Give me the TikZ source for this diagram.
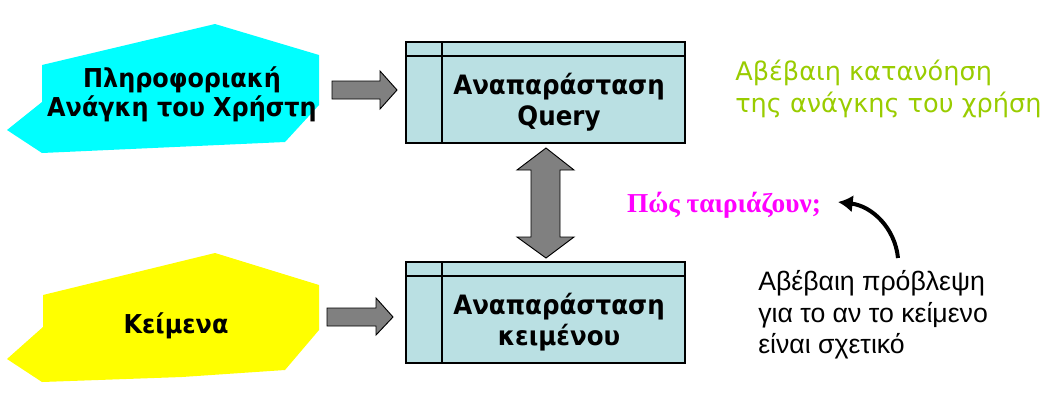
\documentclass[tikz,border=0pt]{standalone}
\usepackage{fontspec}
\setmainfont{Liberation Sans}
\newfontfamily\boxfont[FakeStretch=0.92]{DejaVu Sans}
\newfontfamily\greenfont{DejaVu Sans}
\newfontfamily\serifbold{Liberation Serif}
\usetikzlibrary{arrows.meta}
\definecolor{cyanfill}{HTML}{00FFFF}
\definecolor{yellowfill}{HTML}{FFFF00}
\definecolor{boxfill}{HTML}{BAE0E3}
\definecolor{arrowgray}{HTML}{808080}
\definecolor{greentext}{HTML}{99CC00}
\definecolor{magtext}{HTML}{FF00FF}
\tikzset{
  repbox/.style={draw=black, line width=0.9pt, fill=boxfill},
  fatarrow/.style={draw=black, line width=0.7pt, fill=arrowgray, line join=miter},
  boxtext/.style={font=\boxfont\bfseries\fontsize{20}{23}\selectfont, align=center, inner sep=0pt},
  blobtext/.style={font=\boxfont\bfseries\fontsize{19.5}{21.5}\selectfont, align=center, inner sep=0pt},
  note/.style={align=left, inner sep=0pt, anchor=west},
}
\begin{document}
\begin{tikzpicture}[x=0.75pt,y=-0.75pt]
\useasboundingbox (0,0) rectangle (1051,405);
% cyan blob
\fill[cyanfill] (42,65) -- (215,24) -- (319,55) -- (319,105) -- (285,142) -- (42,153) -- (7,130) -- (42,102) -- cycle;
% yellow blob
\fill[yellowfill] (43,295) -- (215,253) -- (319,285) -- (319,330) -- (285,370) -- (182,377) -- (42,382) -- (7,359) -- (43,327) -- cycle;
\node[blobtext] (need) at (182,94) {Πληροφοριακή\\Ανάγκη του Χρήστη};
\node[blobtext] (docs) at (176,326) {Κείμενα};
% representation boxes
\draw[repbox] (406,42) rectangle (685,143);
\draw[line width=0.9pt] (406,56) -- (685,56) (442,42) -- (442,143);
\draw[repbox] (406,262) rectangle (685,363);
\draw[line width=0.9pt] (406,276) -- (685,276) (442,262) -- (442,363);
\node[boxtext] (qrep) at (559,102) {Αναπαράσταση\\Query};
\node[boxtext] (drep) at (559,322) {Αναπαράσταση\\κειμένου};
% block arrows
\draw[fatarrow] (332,81) -- (380,81) -- (380,71) -- (397,90) -- (380,109) -- (380,99) -- (332,99) -- cycle;
\draw[fatarrow] (327,308) -- (376,308) -- (376,298) -- (393,317) -- (376,335) -- (376,326) -- (327,326) -- cycle;
\draw[fatarrow] (546,148) -- (574,170) -- (560,170) -- (560,237) -- (574,237) -- (546,258) -- (517,237) -- (531,237) -- (531,170) -- (517,170) -- cycle;
% texts
\node[note, font=\greenfont\fontsize{19.2}{24}\selectfont, text=greentext] (green) at (735,89) {Αβέβαιη κατανόηση\\της ανάγκης του χρήση};
\node[note, font=\fontsize{20}{23.5}\selectfont] (pred) at (758,315) {Αβέβαιη πρόβλεψη\\για το αν το κείμενο\\είναι σχετικό};
\node[font=\serifbold\bfseries\fontsize{20.5}{24}\selectfont, text=magtext, inner sep=0pt] (match) at (724,205) {Πώς ταιριάζουν;};
% curved arrow
\coordinate (cstart) at (898,258);
\coordinate (cend) at (838,202);
\draw[line width=3pt, -{Latex[length=11pt,width=13pt]}] (cstart) .. controls (895,228) and (872,206) .. (cend);
\end{tikzpicture}
\end{document}
